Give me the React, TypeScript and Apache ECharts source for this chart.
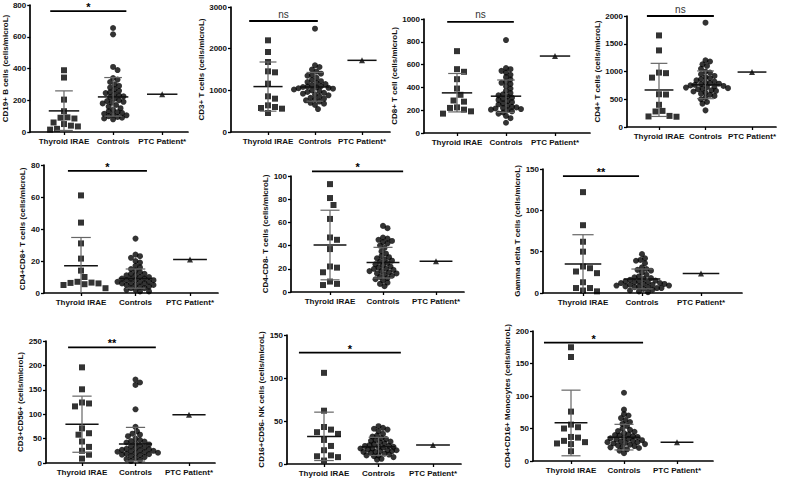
import React, { useEffect, useRef } from "react";
import * as echarts from "echarts";

const categories = ["Thyroid IRAE", "Controls", "PTC Patient*"];

const titles = [
  "CD19+ B cells (cells/microL)",
  "CD3+ T cells (cells/microL)",
  "CD8+ T cell (cells/microL)",
  "CD4+ T cells (cells/microL)",
  "CD4+CD8+ T cells (cells/microL)",
  "CD4-CD8- T cells (cells/microL)",
  "Gamma delta T cells (cells/microL)",
  "CD3+CD56+ (cells/microL)",
  "CD16+CD56- NK cells (cells/microL)",
  "CD4+CD16+ Monocytes (cells/microL)",
];

const yMax = [800, 3000, 1000, 2000, 80, 100, 150, 250, 150, 200];
const yInterval = [200, 1000, 200, 500, 20, 20, 50, 50, 50, 50];

const thyroid1 = [389, 343, 204, 131, 92, 90, 85, 60, 50, 40, 35, 20, 15];
const controls1 = [655, 615, 410, 390, 340, 330, 315, 300, 290, 280, 270, 260, 250, 245, 240, 230, 225, 220, 210, 200, 195, 190, 185, 180, 170, 160, 150, 140, 130, 125, 120, 115, 110, 105, 100, 95, 90, 85, 80];
const thyroid2 = [2200, 1920, 1680, 1456, 1432, 1160, 856, 800, 640, 600, 576, 560, 456];
const controls2 = [2480, 1600, 1560, 1500, 1450, 1400, 1370, 1350, 1300, 1250, 1220, 1200, 1180, 1150, 1120, 1100, 1090, 1080, 1070, 1060, 1050, 1040, 1020, 1000, 980, 960, 940, 920, 900, 880, 850, 820, 800, 780, 760, 730, 700, 680, 650, 550];
const thyroid3 = [718, 560, 537, 472, 390, 335, 285, 275, 225, 220, 205, 190, 170];
const controls3 = [815, 570, 560, 545, 530, 510, 490, 470, 450, 440, 430, 410, 390, 370, 350, 340, 330, 320, 310, 300, 290, 280, 270, 260, 250, 240, 230, 225, 220, 215, 210, 205, 200, 190, 180, 170, 150, 130, 90];
const thyroid4 = [1650, 1380, 980, 970, 890, 590, 585, 400, 290, 280, 200, 190, 185];
const controls4 = [1880, 1200, 1180, 1130, 1100, 1050, 1000, 980, 950, 920, 900, 880, 860, 840, 820, 800, 790, 780, 770, 760, 750, 740, 730, 720, 710, 700, 690, 680, 660, 650, 640, 620, 600, 580, 560, 530, 500, 450, 420, 300];
const thyroid5 = [61, 44, 31, 21.5, 14, 10, 7, 6.5, 6.3, 6, 5.5, 5, 3];
const controls5 = [34, 24, 23, 22, 20, 19, 17, 16, 15, 14, 13, 12, 12, 11, 11, 10, 10, 9, 9, 9, 8, 8, 8, 7, 7, 7, 6, 6, 6, 5, 5, 5, 4, 4, 3, 3, 2, 2, 1, 1];
const thyroid6 = [93, 81, 75, 63, 47, 45, 37, 22, 21, 17, 9, 7, 6];
const controls6 = [57, 55, 47, 46, 45, 44, 43, 42, 40, 38, 35, 33, 31, 30, 29, 28, 27, 26, 25, 24, 23, 22, 21, 20, 20, 19, 18, 18, 17, 16, 16, 15, 14, 13, 12, 11, 10, 8, 7, 5];
const thyroid7 = [122, 82, 62, 50, 32, 30, 26, 24, 13, 6, 6, 3, 2];
const controls7 = [47, 42, 40, 39, 36, 31, 29, 28, 27, 25, 22, 20, 19, 18, 17, 16, 15, 14, 14, 13, 13, 12, 12, 11, 11, 10, 10, 9, 9, 8, 8, 7, 7, 6, 6, 5, 4, 3, 2, 1];
const thyroid8 = [196, 151, 124, 122, 116, 71, 61, 58, 44, 33, 25, 17, 9];
const controls8 = [171, 165, 160, 110, 74, 65, 60, 58, 55, 50, 47, 45, 44, 42, 40, 38, 36, 34, 32, 30, 29, 28, 27, 26, 25, 24, 23, 22, 21, 20, 19, 18, 17, 16, 14, 12, 10, 8, 6, 4];
const thyroid9 = [106, 62, 43, 40, 37, 35, 28, 21, 16, 10, 9, 8, 4];
const controls9 = [44, 42, 41, 40, 38, 35, 33, 32, 30, 29, 28, 27, 26, 25, 24, 23, 22, 21, 21, 20, 20, 19, 18, 18, 17, 16, 16, 15, 15, 14, 14, 13, 12, 11, 10, 10, 9, 8, 6, 5];
const thyroid10 = [175, 160, 76, 56, 52, 50, 37, 36, 31, 29, 27, 26, 15];
const controls10 = [105, 79, 72, 70, 66, 63, 60, 57, 54, 50, 48, 46, 45, 43, 41, 40, 39, 38, 37, 36, 35, 34, 33, 32, 31, 30, 29, 29, 28, 27, 26, 25, 24, 23, 22, 21, 20, 18, 16, 12];

const thyroidGroups = [thyroid1, thyroid2, thyroid3, thyroid4, thyroid5, thyroid6, thyroid7, thyroid8, thyroid9, thyroid10];
const controlGroups = [controls1, controls2, controls3, controls4, controls5, controls6, controls7, controls8, controls9, controls10];
const ptcValues = [238, 1720, 675, 990, 21, 26.5, 23.5, 99, 22, 29];

// [mean, lower SD end, upper SD end]
const thyroidStats = [
  [133, 10, 259], [1090, 500, 1680], [352, 185, 522], [667, 190, 1147], [17, -1, 34.7],
  [40.5, 10.5, 70.5], [35, -1, 70.5], [79.5, 22, 137], [32, 4, 60.3], [59, 8, 109],
];
const controlStats = [
  [221, 100, 343], [1080, 740, 1430], [323, 180, 465], [760, 510, 1010], [9, 3, 15],
  [25.5, 12, 38.5], [17, 5, 29], [38.7, 4, 73], [20, 10, 31], [36.4, 17, 56.4],
];

const sigText = ["*", "ns", "ns", "ns", "*", "*", "**", "**", "*", "*"];
const sigY = [762, 2664, 974, 2000, 76.3, 104, 141.5, 237, 129.4, 182];
const sigX1 = [0.72, 0.6, 0.8, 0.74, 0.76, 0.66, 0.66, 0.74, 0.54, 0.49];
const sigX2 = [2.27, 2.06, 2.16, 2.18, 2.21, 2.38, 1.95, 2.38, 2.41, 2.36];

// layout: [left, top, zeroY, firstCatPx, spacingPx, endPx, titleCenterX]
const layout = [
  [29, 5, 132, 63, 49.5, 188, 6],
  [231, 7, 132, 268, 47, 390, 205],
  [424, 19, 133, 457, 49, 590, 402],
  [627, 16, 127, 659, 46.5, 776, 602],
  [44, 165, 293, 81, 54.5, 218, 21],
  [291, 176, 292, 330, 53, 464, 265],
  [543, 169, 293, 583, 59, 742, 516],
  [46, 341, 463, 82, 53.5, 215, 21],
  [287, 335, 464, 324, 54.5, 461, 265],
  [533, 331, 461, 571, 53, 713, 508],
];

const FONT = "'Liberation Sans', Arial, sans-serif";

function swarm(values: number[], pxPerY: number, pxPerX: number, size: number, step: number): number[] {
  const placed: { x: number; y: number }[] = [];
  const order = values.map((_, i) => i).sort((a, b) => values[b] - values[a]);
  const out: number[] = new Array(values.length).fill(0);
  for (const i of order) {
    const py = values[i] * pxPerY;
    let off = 0;
    for (let k = 0; k < 200; k++) {
      const cand = k === 0 ? 0 : (k % 2 ? 1 : -1) * Math.ceil(k / 2) * step;
      if (placed.every((p) => (p.x - cand) ** 2 + (p.y - py) ** 2 >= size * size)) {
        off = cand;
        break;
      }
    }
    placed.push({ x: off, y: py });
    out[i] = off / pxPerX;
  }
  return out;
}

function buildOption() {
  const grid: any[] = [];
  const xAxis: any[] = [];
  const yAxis: any[] = [];
  const series: any[] = [];

  layout.forEach((L, i) => {
    const [left, top, zeroY, cat1, sp, end, titleX] = L;
    const width = end - left;
    const height = zeroY - top;
    const xMin = 1 - (cat1 - left) / sp;
    const xMax = 3 + (end - (cat1 + 2 * sp)) / sp;
    const pxPerY = height / yMax[i];
    grid.push({ left, top, width, height, containLabel: false });
    xAxis.push({
      type: "value",
      gridIndex: i,
      min: xMin,
      max: xMax,
      splitLine: { show: false },
      axisLine: { show: true, onZero: false, lineStyle: { color: "#000", width: 1.7 } },
      axisTick: { show: true, customValues: [1, 2, 3], length: 3, lineStyle: { color: "#000", width: 1.3 } },
      axisLabel: {
        show: true,
        customValues: [1, 2, 3],
        formatter: (v: number) => categories[Math.round(v) - 1] ?? "",
        fontSize: 8,
        fontWeight: "bold",
        color: "#111",
        fontFamily: FONT,
        margin: 5,
      },
    });
    yAxis.push({
      type: "value",
      gridIndex: i,
      min: 0,
      max: yMax[i],
      interval: yInterval[i],
      splitLine: { show: false },
      axisLine: { show: true, lineStyle: { color: "#000", width: 1.7 } },
      axisTick: { show: true, length: 3, lineStyle: { color: "#000", width: 1.3 } },
      axisLabel: {
        fontSize: 8,
        fontWeight: "bold",
        color: "#111",
        fontFamily: FONT,
        margin: 4,
        formatter: (v: number) => String(v),
      },
      name: titles[i],
      nameLocation: "middle",
      nameGap: left - titleX - 5,
      nameTextStyle: { fontSize: 8, fontWeight: "bold", color: "#111", fontFamily: FONT },
    });

    const th = thyroidGroups[i];
    const co = controlGroups[i];
    const thOff = swarm(th, pxPerY, sp, 7, 3.5);
    const coOff = swarm(co, pxPerY, sp, 4.5, 1.5);

    series.push({
      type: "scatter",
      xAxisIndex: i,
      yAxisIndex: i,
      symbol: "rect",
      symbolSize: 6,
      itemStyle: { color: "#000" },
      data: th.map((v, k) => [1 + thOff[k], v]),
      z: 2,
    });
    series.push({
      type: "scatter",
      xAxisIndex: i,
      yAxisIndex: i,
      symbol: "circle",
      symbolSize: 6,
      itemStyle: { color: "#000" },
      data: co.map((v, k) => [2 + coOff[k], v]),
      z: 2,
    });
    series.push({
      type: "scatter",
      xAxisIndex: i,
      yAxisIndex: i,
      symbol: "triangle",
      symbolSize: 6,
      itemStyle: { color: "#000" },
      data: [[3, ptcValues[i]]],
      z: 2,
    });
    const ts = thyroidStats[i];
    const cs = controlStats[i];
    series.push({
      type: "custom",
      xAxisIndex: i,
      yAxisIndex: i,
      z: 5,
      clip: false,
      data: [
        [1, ts[0], ts[1], ts[2]],
        [2, cs[0], cs[1], cs[2]],
        [3, ptcValues[i], ptcValues[i], ptcValues[i]],
      ],
      renderItem: (params: any, api: any) => {
        const x = api.value(0);
        const m = api.value(1);
        const lo = api.value(2);
        const hi = api.value(3);
        const children: any[] = [];
        const a = api.coord([x - 0.31, m]);
        const b = api.coord([x + 0.31, m]);
        children.push({
          type: "line",
          shape: { x1: a[0], y1: a[1], x2: b[0], y2: b[1] },
          style: { stroke: "#111", lineWidth: 1.5 },
        });
        if (hi > lo) {
          const top = api.coord([x, hi]);
          const bot = api.coord([x, Math.max(lo, 0)]);
          children.push({
            type: "line",
            shape: { x1: top[0], y1: top[1], x2: bot[0], y2: bot[1] },
            style: { stroke: "#666", lineWidth: 1.2 },
          });
          const c1 = api.coord([x - 0.18, hi]);
          const c2 = api.coord([x + 0.18, hi]);
          children.push({
            type: "line",
            shape: { x1: c1[0], y1: c1[1], x2: c2[0], y2: c2[1] },
            style: { stroke: "#666", lineWidth: 1.2 },
          });
          if (lo > 0) {
            const d1 = api.coord([x - 0.18, lo]);
            const d2 = api.coord([x + 0.18, lo]);
            children.push({
              type: "line",
              shape: { x1: d1[0], y1: d1[1], x2: d2[0], y2: d2[1] },
              style: { stroke: "#666", lineWidth: 1.2 },
            });
          }
        }
        return { type: "group", children };
      },
    });
    series.push({
      type: "custom",
      xAxisIndex: i,
      yAxisIndex: i,
      z: 5,
      clip: false,
      data: [[sigX1[i], sigX2[i], sigY[i], i]],
      renderItem: (params: any, api: any) => {
        const p1 = api.coord([api.value(0), api.value(2)]);
        const p2 = api.coord([api.value(1), api.value(2)]);
        const t = sigText[api.value(3)];
        const isNs = t === "ns";
        return {
          type: "group",
          children: [
            {
              type: "line",
              shape: { x1: p1[0], y1: p1[1], x2: p2[0], y2: p2[1] },
              style: { stroke: "#000", lineWidth: 1.8 },
            },
            {
              type: "text",
              x: (p1[0] + p2[0]) / 2,
              y: p1[1] - (isNs ? 7 : 4),
              style: {
                text: t,
                fill: isNs ? "#333" : "#000",
                fontSize: isNs ? 10 : 11,
                fontWeight: isNs ? "normal" : "bold",
                fontFamily: FONT,
                align: "center",
                verticalAlign: "middle",
              },
            },
          ],
        };
      },
    });
  });

  return {
    animation: false,
    backgroundColor: "#fff",
    grid,
    xAxis,
    yAxis,
    series,
  };
}

export default function App() {
  const ref = useRef<HTMLDivElement>(null);
  useEffect(() => {
    if (!ref.current) return;
    const chart = echarts.init(ref.current, null, { renderer: "svg" });
    chart.setOption(buildOption() as any);
    return () => chart.dispose();
  }, []);
  return (
    <div
      ref={ref}
      style={{ position: "absolute", left: 0, top: 0, width: 785, height: 480, background: "#fff" }}
    />
  );
}
